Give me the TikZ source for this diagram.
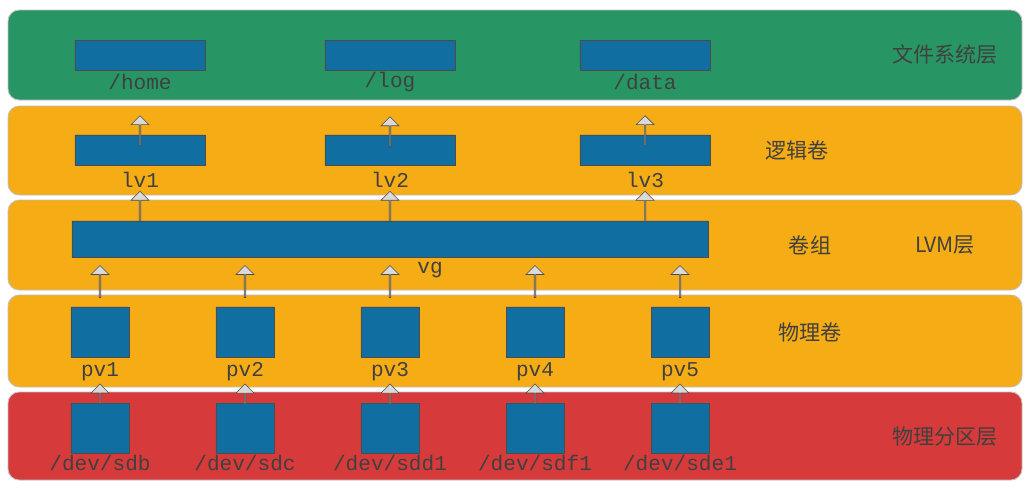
\documentclass[tikz,border=0pt]{standalone}
\usepackage{fontspec}
\setmainfont{Liberation Mono}
\newfontfamily\cjk{Noto Sans CJK SC}
\usetikzlibrary{positioning,shapes.geometric,shapes.arrows}

\tikzset{
  band/.style={rounded corners=8pt, draw=black!25, line width=0.6pt},
  disk/.style={cylinder, shape border rotate=90, aspect=0.25, draw=black!70, thin,
    cylinder uses custom fill, cylinder body fill=diskblue, cylinder end fill=disktop},
  flat/.style={disk, minimum width=3.25cm, minimum height=0.75cm, inner sep=0pt},
  drum/.style={disk, minimum width=1.45cm, minimum height=1.25cm, inner sep=0pt},
  lbl/.style={font=\fontsize{15}{15}\selectfont, text=black!75},
  layer/.style={font=\cjk\fontsize{15}{15}\selectfont, text=black!75},
  up/.style={single arrow, draw=black!70, fill=black!15, thin, minimum width=0.45cm,
    single arrow head extend=0.08cm, single arrow tip angle=90, minimum height=#1,
    inner sep=0pt, sloped, allow upside down}
}
\definecolor{diskblue}{RGB}{16,110,160}
\definecolor{disktop}{RGB}{74,160,200}
\definecolor{fsgreen}{RGB}{40,150,100}
\definecolor{lvorange}{RGB}{246,172,20}
\definecolor{pred}{RGB}{215,58,58}

\begin{document}
\begin{tikzpicture}[x=0.025cm, y=-0.025cm]
\useasboundingbox (0,0) rectangle (1030,487);
\fill[white] (0,0) rectangle (1030,487);
% layers
\filldraw[band, fill=fsgreen] (8,10) rectangle (1022,100);
\filldraw[band, fill=lvorange] (8,106) rectangle (1022,195);
\filldraw[band, fill=lvorange] (8,200) rectangle (1022,290);
\filldraw[band, fill=lvorange] (8,295) rectangle (1022,387);
\filldraw[band, fill=pred] (8,392) rectangle (1022,480);
\node[layer] (tfs) at (945,55) {文件系统层};
\node[layer] (tlv) at (797,150) {逻辑卷};
\node[layer] (tvg) at (810,245) {卷组};
\node[layer] (tlvm) at (945,245) {LVM层};
\node[layer] (tpv) at (810,332) {物理卷};
\node[layer] (tpd) at (945,437) {物理分区层};
% file systems and logical volumes
\foreach \n/\x/\f/\l in {1/140/home/lv1, 2/390/log/lv2, 3/645/data/lv3} {
  \node[flat] (fs\n) at (\x,55) {};
  \node[lbl] (fsl\n) at (\x,82) {/\f};
  \node[flat] (lv\n) at (\x,150) {};
  \node[lbl] (lvl\n) at (\x,180) {\l};
  \path (lvl\n.north) -- node[up=0.75cm] {} (fsl\n.south);
}
% volume group
\node[disk, minimum width=15.9cm, minimum height=0.9cm, aspect=0.1, inner sep=0pt] (vg) at (390,239) {};
\node[lbl] (vgl) at (430,270) {vg};
\foreach \n in {1,2,3} \path (vg.north -| lv\n) -- node[up=0.75cm] {} (lvl\n.south);
% physical volumes and partitions
\foreach \n/\x/\d in {1/100/sdb, 2/245/sdc, 3/390/sdd1, 4/535/sdf1, 5/680/sde1} {
  \node[drum] (pv\n) at (\x,332) {};
  \node[lbl] (pvl\n) at (\x,372) {pv\n};
  \node[drum] (pd\n) at (\x,428) {};
  \node[lbl] (pdl\n) at (\x,463) {/dev/\d};
  \path (pd\n.north) -- node[up=0.5cm] {} (pvl\n.south);
  \path (pv\n.north) -- node[up=0.8cm] {} (pv\n.north |- vg.south);
}
\end{tikzpicture}
\end{document}
